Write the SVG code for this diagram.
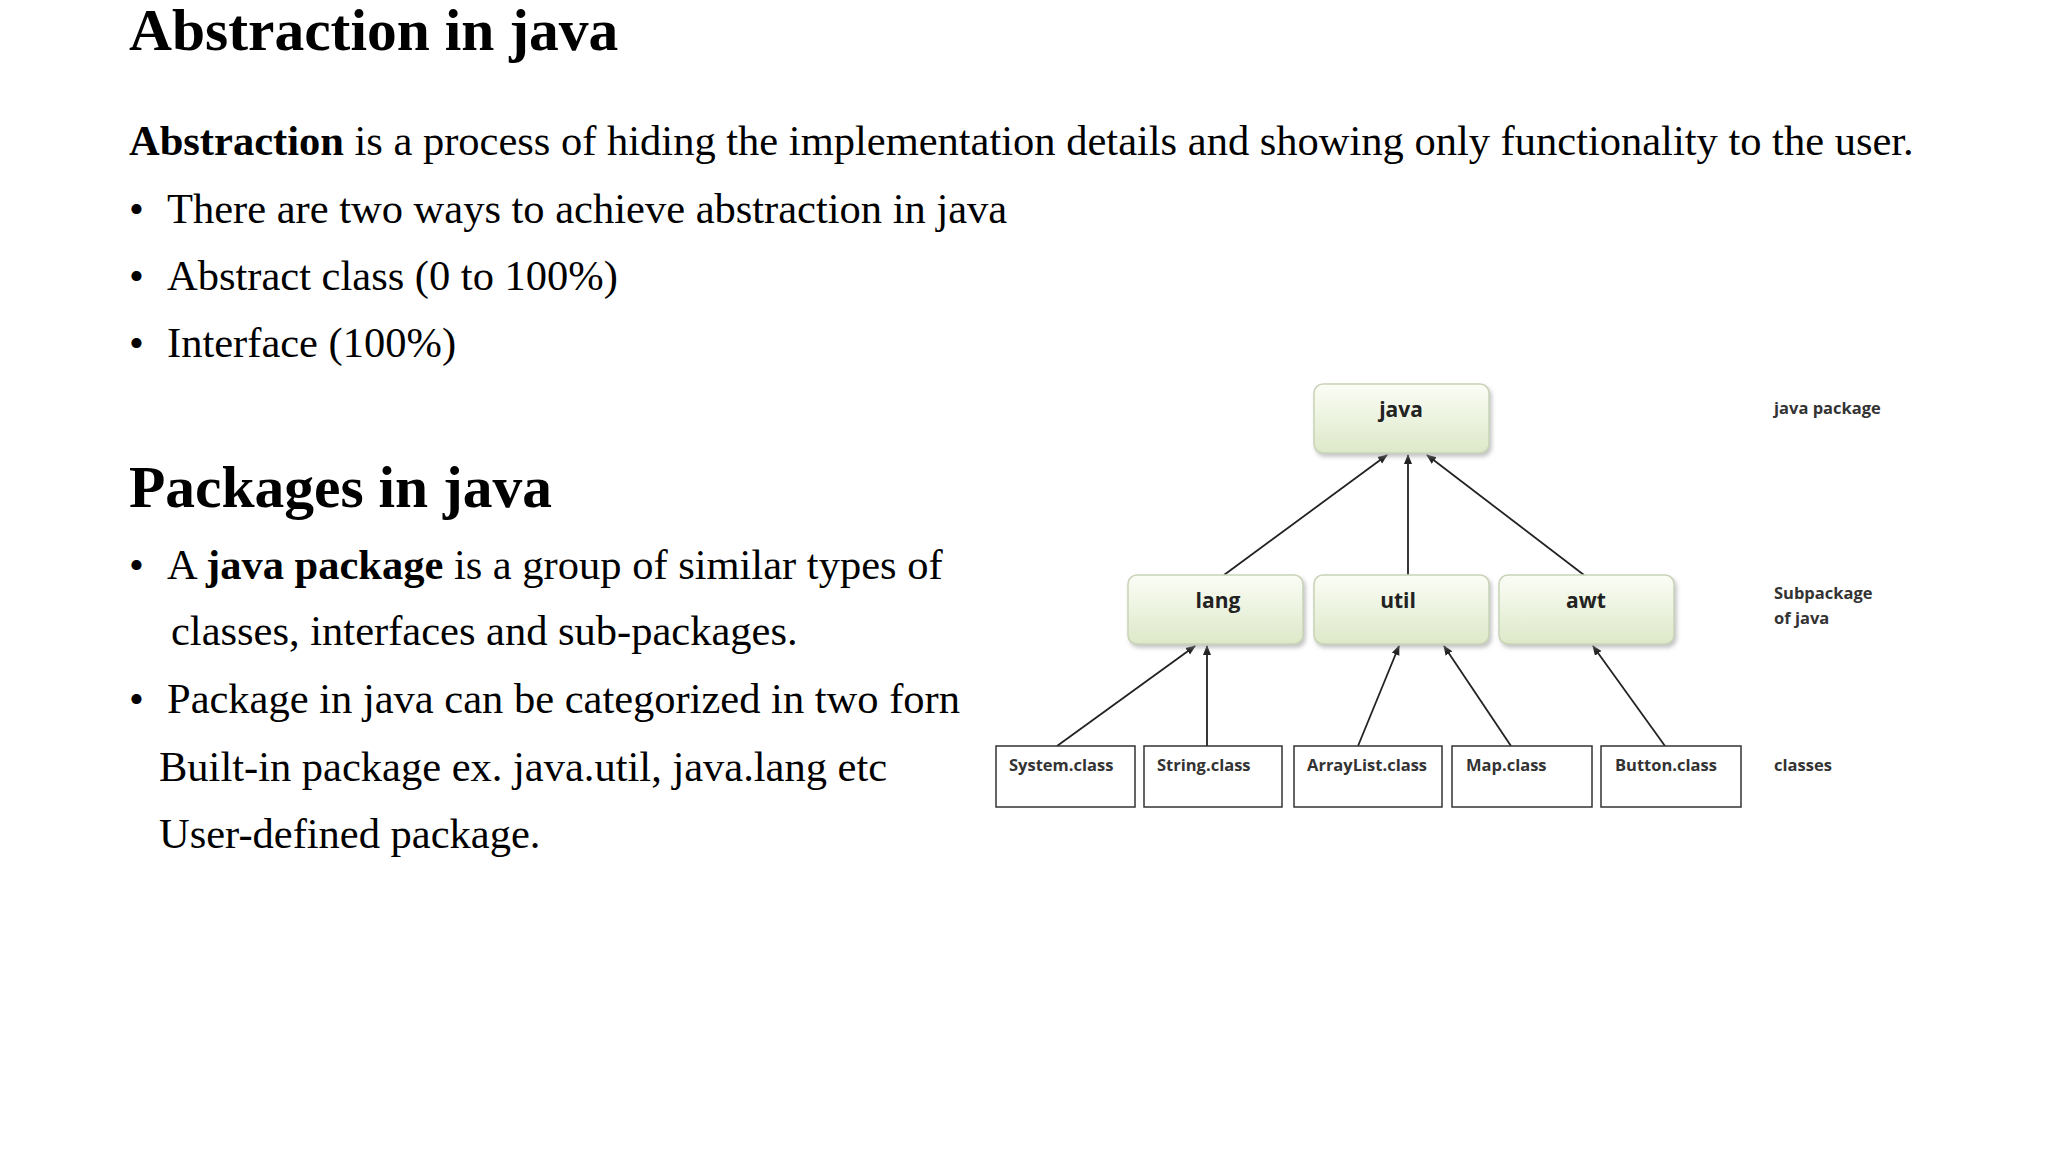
<svg xmlns="http://www.w3.org/2000/svg" width="2048" height="1152" viewBox="0 0 2048 1152">
<style>
.t{font-family:"Liberation Serif","Times New Roman",serif;fill:#000}
.h{font-size:59.5px;font-weight:bold}
.p{font-size:42.5px}
.n{font-family:"Open Sans","Noto Sans",sans-serif;font-size:21px;font-weight:700;fill:#222;text-anchor:middle}
.c{font-family:"Open Sans","Noto Sans",sans-serif;font-size:16.5px;font-weight:700;fill:#333}
.pk{fill:url(#g);stroke:#c8d3b8;stroke-width:1.5}
.cb{fill:#fff;stroke:#333;stroke-width:1.5}
.e{stroke:#222;stroke-width:1.8;fill:none;marker-end:url(#a)}
</style>
<defs>
<linearGradient id="g" x1="0" y1="0" x2="0" y2="1"><stop offset="0" stop-color="#fbfdf6"/><stop offset="1" stop-color="#dde8c8"/></linearGradient>
<filter id="s" x="-10%" y="-10%" width="130%" height="140%"><feDropShadow dx="2" dy="3" stdDeviation="2" flood-color="#999" flood-opacity="0.6"/></filter>
<marker id="a" markerWidth="10" markerHeight="10" refX="9" refY="5" orient="auto" markerUnits="userSpaceOnUse"><path d="M0,1 L10,5 L0,9 z" fill="#222"/></marker>
</defs>
<rect width="2048" height="1152" fill="#fff"/>
<g id="text">
<text class="t h" x="129" y="50">Abstraction in java</text>
<text class="t p" x="129" y="155"><tspan font-weight="bold">Abstraction</tspan> is a process of hiding the implementation details and showing only functionality to the user.</text>
<text class="t p" x="129" y="223">•</text><text class="t p" x="167" y="223">There are two ways to achieve abstraction in java</text>
<text class="t p" x="129" y="290">•</text><text class="t p" x="167" y="290">Abstract class (0 to 100%)</text>
<text class="t p" x="129" y="357">•</text><text class="t p" x="167" y="357">Interface (100%)</text>
<text class="t h" x="129" y="507">Packages in java</text>
<text class="t p" x="129" y="579">•</text><text class="t p" x="167" y="579">A <tspan font-weight="bold">java package</tspan> is a group of similar types of</text>
<text class="t p" x="171" y="645">classes, interfaces and sub-packages.</text>
<text class="t p" x="129" y="713">•</text><text class="t p" x="167" y="713">Package in java can be categorized in two forn</text>
<text class="t p" x="159" y="781">Built-in package ex. java.util, java.lang etc</text>
<text class="t p" x="159" y="848">User-defined package.</text>
</g>
<g id="connectors">
<line class="e" x1="1224" y1="575" x2="1387" y2="455"/>
<line class="e" x1="1408" y1="575" x2="1408" y2="455"/>
<line class="e" x1="1584" y1="575" x2="1427" y2="455"/>
<line class="e" x1="1057" y1="746" x2="1195" y2="646"/>
<line class="e" x1="1207" y1="746" x2="1207" y2="646"/>
<line class="e" x1="1358" y1="746" x2="1399" y2="646"/>
<line class="e" x1="1511" y1="746" x2="1444" y2="646"/>
<line class="e" x1="1665" y1="746" x2="1593" y2="646"/>
</g>
<g id="java"><rect class="pk" filter="url(#s)" x="1314" y="384" width="175" height="69" rx="9"/><text class="n" x="1401" y="417">java</text></g>
<g id="lang"><rect class="pk" filter="url(#s)" x="1128" y="575" width="175" height="69" rx="9"/><text class="n" x="1218" y="608">lang</text></g>
<g id="util"><rect class="pk" filter="url(#s)" x="1314" y="575" width="175" height="69" rx="9"/><text class="n" x="1398" y="608">util</text></g>
<g id="awt"><rect class="pk" filter="url(#s)" x="1499" y="575" width="175" height="69" rx="9"/><text class="n" x="1586" y="608">awt</text></g>
<g id="system"><rect class="cb" x="996" y="746" width="139" height="61"/><text class="c" x="1009" y="771">System.class</text></g>
<g id="string"><rect class="cb" x="1144" y="746" width="138" height="61"/><text class="c" x="1157" y="771">String.class</text></g>
<g id="arraylist"><rect class="cb" x="1294" y="746" width="148" height="61"/><text class="c" x="1307" y="771">ArrayList.class</text></g>
<g id="map"><rect class="cb" x="1452" y="746" width="140" height="61"/><text class="c" x="1466" y="771">Map.class</text></g>
<g id="button"><rect class="cb" x="1601" y="746" width="140" height="61"/><text class="c" x="1615" y="771">Button.class</text></g>
<g id="labels">
<text class="c" x="1774" y="414">java package</text>
<text class="c" x="1774" y="599">Subpackage</text>
<text class="c" x="1774" y="624">of java</text>
<text class="c" x="1774" y="771">classes</text>
</g>
</svg>
